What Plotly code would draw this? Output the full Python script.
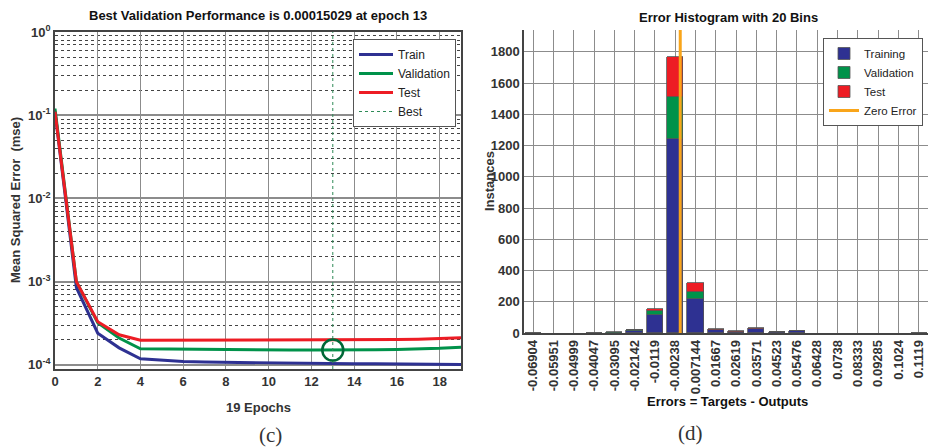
import numpy as np
import plotly.graph_objects as go

# ---------------- data ----------------
epochs = list(range(20))
train_perf = [0.11, 8.5e-4, 2.4e-4, 1.6e-4, 1.18e-4, 1.13e-4, 1.10e-4, 1.08e-4, 1.07e-4, 1.06e-4,
              1.05e-4, 1.05e-4, 1.04e-4, 1.04e-4, 1.03e-4, 1.03e-4, 1.02e-4, 1.02e-4, 1.02e-4, 1.01e-4]
val_perf = [0.12, 1.0e-3, 3.2e-4, 2.1e-4, 1.56e-4, 1.55e-4, 1.53e-4, 1.52e-4, 1.52e-4, 1.52e-4,
            1.51e-4, 1.51e-4, 1.51e-4, 1.5029e-4, 1.51e-4, 1.52e-4, 1.53e-4, 1.55e-4, 1.58e-4, 1.63e-4]
test_perf = [0.11, 1.0e-3, 3.3e-4, 2.3e-4, 1.98e-4, 1.98e-4, 1.97e-4, 1.97e-4, 1.97e-4, 1.97e-4,
             1.97e-4, 1.98e-4, 1.98e-4, 1.98e-4, 1.99e-4, 2.0e-4, 2.01e-4, 2.03e-4, 2.06e-4, 2.12e-4]
best_epoch = 13
epoch_ticks = [0, 2, 4, 6, 8, 10, 12, 14, 16, 18]
mse_ticks = [1e-4, 1e-3, 1e-2, 1e-1, 1]
mse_tick_labels = ["10<sup>-4</sup>", "10<sup>-3</sup>", "10<sup>-2</sup>", "10<sup>-1</sup>", "10<sup>0</sup>"]

bin_labels = ["-0.06904", "-0.05951", "-0.04999", "-0.04047", "-0.03095", "-0.02142", "-0.0119",
              "-0.00238", "0.007144", "0.01667", "0.02619", "0.03571", "0.04523", "0.05476",
              "0.06428", "0.0738", "0.08333", "0.09285", "0.1024", "0.1119"]
train_counts = [1, 0, 0, 3, 3, 16, 115, 1245, 216, 20, 8, 24, 6, 12, 0, 0, 0, 0, 0, 3]
val_counts =   [0, 0, 0, 0, 1, 2, 26, 263, 49, 2, 1, 3, 1, 2, 0, 0, 0, 0, 0, 0]
test_counts =  [0, 0, 0, 0, 0, 1, 13, 257, 53, 1, 1, 7, 1, 2, 0, 0, 0, 0, 0, 0]
count_ticks = [0, 200, 400, 600, 800, 1000, 1200, 1400, 1600, 1800]

# ---------------- styling ----------------
BLUE = "#2E3192"
GREEN = "#00924A"
RED = "#ED1C24"
ORANGE = "#F9A51A"
FONT = "Arial, Liberation Sans, sans-serif"
TXT = "#333333"
W, H = 928, 448

def px_x(p):
    return p / W

def px_y(p):
    return 1 - p / H

def bold(labels):
    return ["<b>%s</b>" % s for s in labels]

fig = go.Figure()

# ---------- left: performance ----------
fig.add_trace(go.Scatter(x=epochs, y=train_perf, mode="lines", name="Train",
                         line=dict(color=BLUE, width=3), xaxis="x", yaxis="y", legend="legend"))
fig.add_trace(go.Scatter(x=epochs, y=val_perf, mode="lines", name="Validation",
                         line=dict(color=GREEN, width=3), xaxis="x", yaxis="y", legend="legend"))
fig.add_trace(go.Scatter(x=epochs, y=test_perf, mode="lines", name="Test",
                         line=dict(color=RED, width=3), xaxis="x", yaxis="y", legend="legend"))
y_lo, y_hi = 10 ** -4.05, 1.0
fig.add_trace(go.Scatter(x=[best_epoch, best_epoch], y=[y_lo, y_hi], mode="lines", name="Best",
                         line=dict(color="#2E8B57", width=1, dash="dot"), xaxis="x", yaxis="y", legend="legend"))
fig.add_trace(go.Scatter(x=[best_epoch], y=[val_perf[best_epoch]], mode="markers", showlegend=False,
                         marker=dict(symbol="circle-open", size=21, color="#006837", line=dict(width=2.5)),
                         xaxis="x", yaxis="y"))

# ---------- right: histogram ----------
idx = list(range(len(bin_labels)))
for name, vals, col in [("Training", train_counts, BLUE), ("Validation", val_counts, GREEN),
                        ("Test", test_counts, RED)]:
    shown = [v if v > 0 else None for v in vals]
    fig.add_trace(go.Bar(x=idx, y=shown, name=name, width=0.8,
                         marker=dict(color=col, line=dict(color="#555555", width=0.8)),
                         xaxis="x2", yaxis="y2", legend="legend2"))
centers = [float(s) for s in bin_labels]
zero_pos = float(np.interp(0.0, centers, idx))
y2_top = 1940
fig.add_trace(go.Scatter(x=[zero_pos, zero_pos], y=[0, y2_top], mode="lines", name="Zero Error",
                         line=dict(color=ORANGE, width=3), xaxis="x2", yaxis="y2", legend="legend2"))

tickfont = dict(family=FONT, size=13, color="#333333")

fig.update_layout(
    width=W, height=H,
    margin=dict(l=0, r=0, t=0, b=0, autoexpand=False),
    paper_bgcolor="white", plot_bgcolor="white",
    barmode="stack", bargap=0,
    font=dict(family=FONT, color=TXT),
    xaxis=dict(domain=[px_x(55), px_x(461)], range=[0, 19], tickvals=epoch_ticks,
               ticktext=bold([str(t) for t in epoch_ticks]),
               showgrid=True, gridcolor="#8c8c8c", gridwidth=1, zeroline=False,
               showline=True, linecolor="#444", linewidth=1.5, mirror=True,
               ticks="", tickfont=tickfont, anchor="y"),
    yaxis=dict(domain=[px_y(369), px_y(32)], type="log", range=[-4.05, 0],
               tickvals=mse_ticks, ticktext=bold(mse_tick_labels),
               showgrid=True, gridcolor="#8c8c8c", gridwidth=1.5, zeroline=False,
               minor=dict(dtick="D1", showgrid=True, gridcolor="#444", griddash="dot", gridwidth=1, ticks=""),
               showline=True, linecolor="#444", linewidth=1.5, mirror=True,
               ticks="", tickfont=tickfont, anchor="x"),
    xaxis2=dict(domain=[px_x(524), 1.0], range=[-0.45, 19.46], tickvals=idx, ticktext=bold(bin_labels),
                tickangle=-90, showgrid=True, gridcolor="#8c8c8c", gridwidth=1.2, zeroline=False,
                showline=True, linecolor="#444", linewidth=1.5, ticks="", tickfont=tickfont, anchor="y2"),
    yaxis2=dict(domain=[px_y(333), px_y(30)], range=[0, y2_top], tickvals=count_ticks,
                ticktext=bold([str(t) for t in count_ticks]),
                showgrid=True, gridcolor="#8c8c8c", gridwidth=1.2, zeroline=False,
                showline=True, linecolor="#444", linewidth=1.5, ticks="", tickfont=tickfont, anchor="x2"),
    legend=dict(x=px_x(353), y=px_y(39), xanchor="left", yanchor="top",
                bgcolor="white", bordercolor="#555", borderwidth=1,
                font=dict(family=FONT, size=12, color="#222"), tracegroupgap=0, itemwidth=34),
    legend2=dict(x=px_x(823), y=px_y(38), xanchor="left", yanchor="top",
                 bgcolor="white", bordercolor="#555", borderwidth=1,
                 font=dict(family=FONT, size=11.5, color="#222"), tracegroupgap=0, itemwidth=30,
                 traceorder="normal"),
)

annots = [
    dict(text="<b>Best Validation Performance is 0.00015029 at epoch 13</b>", x=px_x(258), y=px_y(15),
         font=dict(family=FONT, size=13, color="#111")),
    dict(text="<b>Error Histogram with 20 Bins</b>", x=px_x(728), y=px_y(17),
         font=dict(family=FONT, size=13, color="#111")),
    dict(text="<b>Mean Squared Error  (mse)</b>", x=px_x(15), y=px_y(200), textangle=-90,
         font=dict(family=FONT, size=13, color=TXT)),
    dict(text="<b>19 Epochs</b>", x=px_x(258), y=px_y(407),
         font=dict(family=FONT, size=13, color=TXT)),
    dict(text="<b>Instances</b>", x=px_x(489), y=px_y(181), textangle=-90,
         font=dict(family=FONT, size=13, color=TXT)),
    dict(text="<b>Errors = Targets - Outputs</b>", x=px_x(727), y=px_y(401),
         font=dict(family=FONT, size=13, color="#111")),
    dict(text="(c)", x=px_x(270), y=px_y(435), font=dict(family="Liberation Serif", size=21, color=TXT)),
    dict(text="(d)", x=px_x(690), y=px_y(433), font=dict(family="Liberation Serif", size=21, color=TXT)),
]
for a in annots:
    a.update(xref="paper", yref="paper", showarrow=False, xanchor="center", yanchor="middle")
fig.update_layout(annotations=annots)

fig.write_html("out.html")
